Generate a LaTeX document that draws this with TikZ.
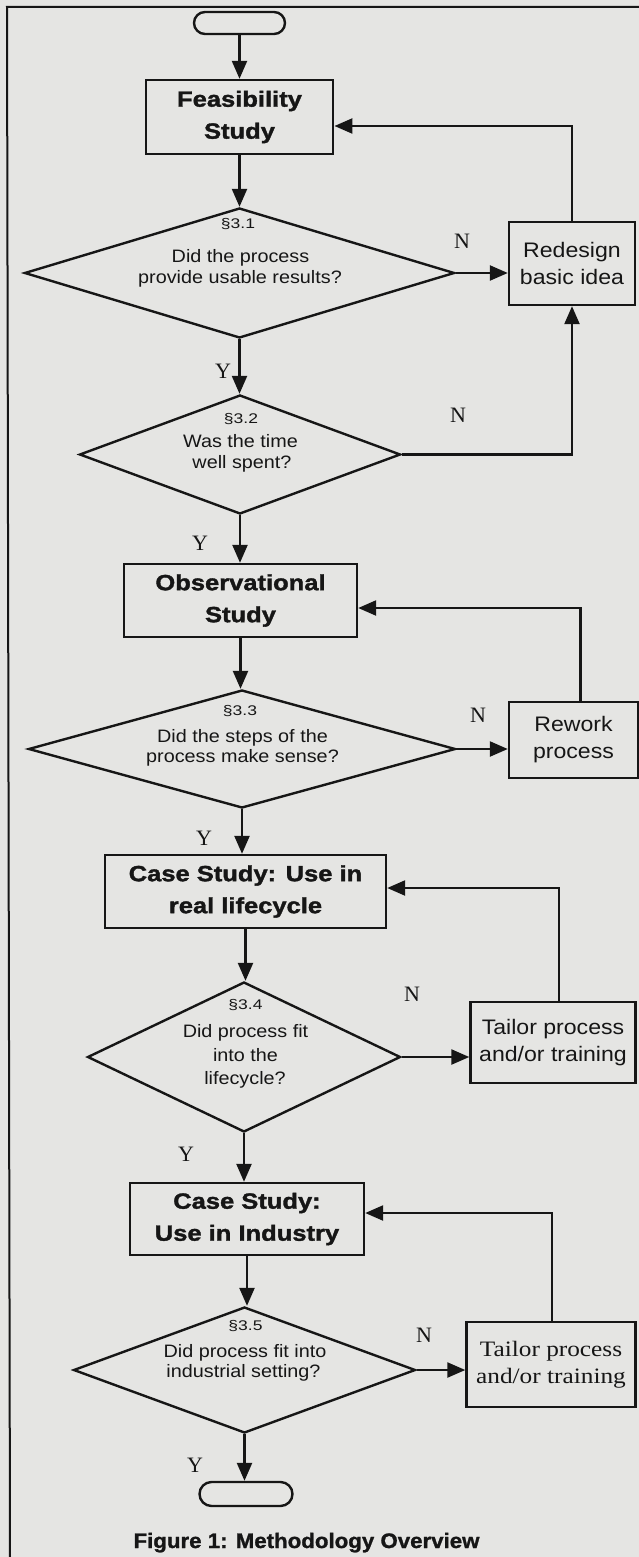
\documentclass[tikz,border=0pt]{standalone}
\usepackage{fontspec}
\setmainfont{Liberation Serif}
\newfontfamily\headfont[FakeStretch=1.16, BoldFeatures={FakeBold=1.6}]{Liberation Sans}
\newfontfamily\bodyfont[FakeStretch=1.1]{Liberation Sans}
\newfontfamily\secfont[FakeStretch=1.25]{Liberation Sans}
\newfontfamily\tailorfont[FakeStretch=1.15]{Liberation Serif}
\newfontfamily\capfont[FakeStretch=1.06, BoldFeatures={FakeBold=1.2}]{Liberation Sans}
\usetikzlibrary{arrows.meta,shapes.geometric}

\definecolor{paper}{RGB}{229,229,227}
\definecolor{ink}{RGB}{22,22,22}

\tikzset{
  box/.style={draw=ink, line width=2.4pt, rectangle, inner sep=0pt, align=center, text=ink},
  headbox/.style={box, font=\headfont\bfseries\fontsize{22}{32}\selectfont},
  sidebox/.style={box, font=\bodyfont\fontsize{21}{27}\selectfont},
  serifbox/.style={box, font=\tailorfont\fontsize{22}{27}\selectfont},
  decision/.style={draw=ink, line width=2.4pt, diamond, inner sep=0pt},
  terminal/.style={draw=ink, line width=2.4pt, rectangle, inner sep=0pt},
  qtext/.style={anchor=base, inner sep=0pt, text=ink, font=\bodyfont\fontsize{18}{18}\selectfont},
  sectext/.style={anchor=base, inner sep=0pt, text=ink, font=\secfont\fontsize{14}{14}\selectfont},
  answer/.style={inner sep=0pt, text=ink, font=\fontsize{22}{22}\selectfont},
  flow/.style={draw=ink, line width=2.4pt, -{Triangle[length=18pt,width=15pt]}},
}

\begin{document}
\begin{tikzpicture}[x=1pt, y=-1pt]
% page and frame
\fill[paper] (0,0) rectangle (639,1557);
\useasboundingbox (0,0) rectangle (639,1557);
\draw[ink, line width=2pt] (639,7) -- (7,7) -- (10,1557);

% main column
\node[terminal, rounded corners=11pt, minimum width=91pt, minimum height=22pt] (start) at (239.5,23) {};
\node[headbox, minimum width=187.5pt, minimum height=74pt] (feas) at (239.5,117) {Feasibility\\Study};
\node[decision, minimum width=430pt, minimum height=130pt] (d1) at (239.5,273) {};
\node[decision, minimum width=321pt, minimum height=119pt] (d2) at (240,454.5) {};
\node[headbox, minimum width=233pt, minimum height=73pt] (obs) at (240.5,600.5) {Observational\\Study};
\node[decision, minimum width=427pt, minimum height=118pt] (d3) at (242,749) {};
\node[headbox, minimum width=281pt, minimum height=73pt] (csA) at (245.5,891.5) {Case Study: Use in\\real lifecycle};
\node[decision, minimum width=313pt, minimum height=150pt] (d4) at (244,1057) {};
\node[headbox, minimum width=234pt, minimum height=72pt] (csB) at (247,1219) {Case Study:\\Use in Industry};
\node[decision, minimum width=342pt, minimum height=126pt] (d5) at (244.5,1370) {};
\node[terminal, rounded corners=12pt, minimum width=93pt, minimum height=24pt] (stop) at (246,1494) {};

% side boxes
\node[sidebox, minimum width=126pt, minimum height=83pt] (redesign) at (572,263.5) {Redesign\\basic idea};
\node[sidebox, minimum width=129pt, minimum height=76pt] (rework) at (573.5,740) {Rework\\process};
\node[sidebox, minimum width=165pt, minimum height=81pt] (tailorA) at (553,1042.5) {Tailor process\\and/or training};
\node[serifbox, minimum width=169pt, minimum height=85pt] (tailorB) at (551,1364.5) {Tailor process\\and/or training};

% questions
\node[sectext] (s1) at (238,229) {§3.1};
\node[qtext] (q1a) at (240.5,262) {Did the process};
\node[qtext] (q1b) at (240,283) {provide usable results?};

\node[sectext] (s2) at (241,423) {§3.2};
\node[qtext] (q2a) at (240.5,447) {Was the time};
\node[qtext] (q2b) at (242,468) {well spent?};

\node[sectext] (s3) at (240,715) {§3.3};
\node[qtext] (q3a) at (242.5,742) {Did the steps of the};
\node[qtext] (q3b) at (242.5,762) {process make sense?};

\node[sectext] (s4) at (245.5,1009) {§3.4};
\node[qtext] (q4a) at (245.5,1037) {Did process fit};
\node[qtext] (q4b) at (245.5,1061) {into the};
\node[qtext] (q4c) at (245,1084) {lifecycle?};

\node[sectext] (s5) at (245.5,1330) {§3.5};
\node[qtext] (q5a) at (245,1357) {Did process fit into};
\node[qtext] (q5b) at (243.5,1377) {industrial setting?};

% answers
\node[answer] (n1) at (462,241) {N};
\node[answer] (n2) at (458,415) {N};
\node[answer] (n3) at (478,715) {N};
\node[answer] (n4) at (412,994) {N};
\node[answer] (n5) at (424,1335) {N};
\node[answer] (y1) at (223,371) {Y};
\node[answer] (y2) at (200,543) {Y};
\node[answer] (y3) at (204,838) {Y};
\node[answer] (y4) at (186,1154) {Y};
\node[answer] (y5) at (195,1465) {Y};

% downward flow
\draw[flow] (start.south) -- (start.south |- feas.north);
\draw[flow] (feas.south) -- (feas.south |- d1.north);
\draw[flow] (d1.south) -- (d1.south |- d2.north);
\draw[flow] (d2.south) -- (d2.south |- obs.north);
\draw[flow] (obs.south) -- (obs.south |- d3.north);
\draw[flow] (d3.south) -- (d3.south |- csA.north);
\draw[flow] (csA.south) -- (csA.south |- d4.north);
\draw[flow] (d4.south) -- (d4.south |- csB.north);
\draw[flow] (csB.south) -- (csB.south |- d5.north);
\draw[flow] (d5.south) -- (d5.south |- stop.north);

% "no" branches
\draw[flow] (d1.east) -- (d1.east -| redesign.west);
\draw[flow] (d2.east) -| (redesign.south);
\draw[flow] (d3.east) -- (d3.east -| rework.west);
\draw[flow] (d4.east) -- (d4.east -| tailorA.west);
\draw[flow] (d5.east) -- (d5.east -| tailorB.west);

% loops back
\draw[flow] (redesign.north) |- ([yshift=-9pt]feas.east);
\draw[flow] ([xshift=7pt]rework.north) |- ([yshift=-7.5pt]obs.east);
\draw[flow] ([xshift=6pt]tailorA.north) |- ([yshift=3.5pt]csA.east);
\draw[flow] ([xshift=1pt]tailorB.north) |- ([yshift=6pt]csB.east);

% caption
\node[anchor=base, inner sep=0pt, text=ink, font=\capfont\bfseries\fontsize{21}{21}\selectfont] (caption) at (306.5,1548) {Figure 1: Methodology Overview};
\end{tikzpicture}
\end{document}
